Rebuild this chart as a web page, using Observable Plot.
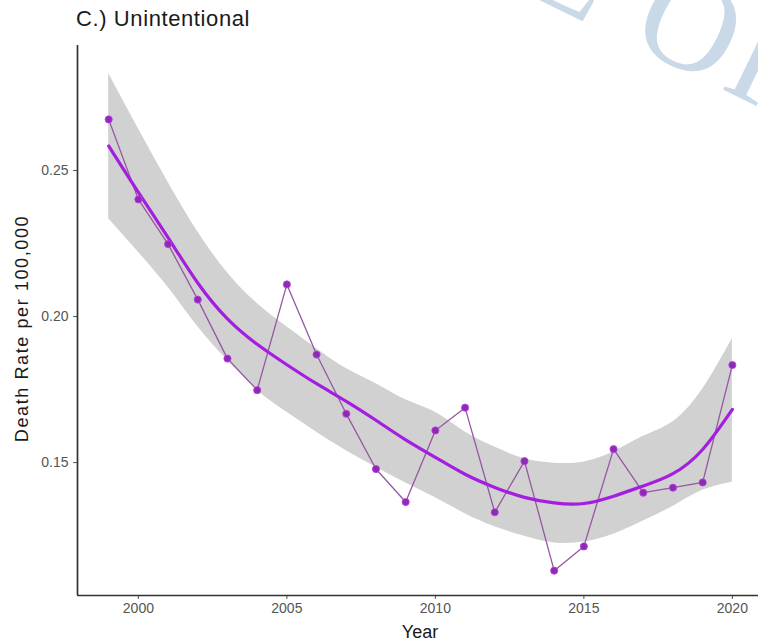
<!DOCTYPE html>
<html>
<head>
<meta charset="utf-8">
<script src="https://cdn.jsdelivr.net/npm/d3@7"></script>
<script src="https://cdn.jsdelivr.net/npm/@observablehq/plot@0.6"></script>
<style>
  html, body { margin: 0; padding: 0; background: #fff; }
  #wrap { position: relative; width: 758px; height: 644px; overflow: hidden; font-family: "Liberation Sans", Arial, sans-serif; }
  #title { position: relative; height: 40px; box-sizing: border-box; padding: 6px 0 0 76px; font-size: 22px; line-height: 26px; letter-spacing: 0.6px; color: #1a1a1a; z-index: 2; }
  #chart { position: relative; z-index: 2; }
  .ylab text { letter-spacing: 1.6px; }
  #wm { position: absolute; left: 492px; top: -160px; font-family: "Liberation Serif", "DejaVu Serif", serif; font-size: 135px; color: #c9d9e7; transform: rotate(26deg); transform-origin: 0 0; white-space: nowrap; z-index: 1; letter-spacing: 4px; }
</style>
</head>
<body>
<div id="wrap">
  <div id="wm">LE OP</div>
  <div id="title">C.) Unintentional</div>
  <div id="chart"></div>
</div>
<script>
const years = [1999, 2000, 2001, 2002, 2003, 2004, 2005, 2006, 2007, 2008, 2009, 2010, 2011, 2012, 2013, 2014, 2015, 2016, 2017, 2018, 2019, 2020];
const rate  = [0.2675, 0.2401, 0.2248, 0.2058, 0.1856, 0.1748, 0.2110, 0.1870, 0.1667, 0.1478, 0.1365, 0.1610, 0.1688, 0.1330, 0.1505, 0.1130, 0.1213, 0.1546, 0.1397, 0.1414, 0.1432, 0.1834];
const fit   = [0.2584, 0.2425, 0.2270, 0.2115, 0.1992, 0.1905, 0.1835, 0.1770, 0.1710, 0.1645, 0.1578, 0.1518, 0.1460, 0.1415, 0.1381, 0.1362, 0.1360, 0.1385, 0.1420, 0.1462, 0.1545, 0.1682];
const upper = [0.2832, 0.2643, 0.2460, 0.2290, 0.2150, 0.2045, 0.1965, 0.1890, 0.1822, 0.1770, 0.1715, 0.1672, 0.1605, 0.1553, 0.1513, 0.1498, 0.1502, 0.1537, 0.1590, 0.1640, 0.1752, 0.1925];
const lower = [0.2335, 0.2220, 0.2100, 0.1965, 0.1850, 0.1748, 0.1672, 0.1604, 0.1541, 0.1484, 0.1430, 0.1380, 0.1325, 0.1280, 0.1248, 0.1225, 0.1228, 0.1255, 0.1300, 0.1350, 0.1405, 0.1433];
const xTicks = [2000, 2005, 2010, 2015, 2020];
const yTicks = [0.15, 0.20, 0.25];
const xLabel = "Year";
const yLabel = "Death Rate per 100,000";

const data = years.map((year, i) => ({year, rate: rate[i], fit: fit[i], upper: upper[i], lower: lower[i]}));

const chart = Plot.plot({
  width: 758,
  height: 604,
  marginTop: 5,
  marginBottom: 49,
  marginLeft: 77,
  marginRight: 0,
  style: {fontFamily: "Liberation Sans, Arial, sans-serif", background: "transparent", overflow: "visible"},
  x: {domain: [1997.95, 2020.88]},
  y: {domain: [0.1045, 0.2928]},
  marks: [
    Plot.areaY(data, {x: "year", y1: "lower", y2: "upper", fill: "#d1d1d1", fillOpacity: 1, curve: "natural"}),
    Plot.line(data, {x: "year", y: "rate", stroke: "#93589f", strokeWidth: 1.3}),
    Plot.line(data, {x: "year", y: "fit", stroke: "#a41ee0", strokeWidth: 3.2, curve: "natural"}),
    Plot.dot(data, {x: "year", y: "rate", r: 3.6, fill: "#8c2bb3", stroke: "#c040e8", strokeWidth: 0.8}),
    Plot.axisX({ticks: xTicks, tickFormat: d => String(d), tickSize: 4, tickPadding: 4, fontSize: 14, color: "#555", label: null}),
    Plot.axisY({ticks: yTicks, tickFormat: d => d.toFixed(2), tickSize: 4, tickPadding: 5, fontSize: 14, color: "#555", label: null}),
    Plot.ruleX([1997.95], {stroke: "#333", strokeWidth: 1.7}),
    Plot.ruleY([0.1045], {stroke: "#333", strokeWidth: 1.7}),
    Plot.text([xLabel], {frameAnchor: "bottom", lineAnchor: "middle", dx: 2, dy: 37, fontSize: 18, fill: "#1a1a1a"}),
    Plot.text([yLabel], {frameAnchor: "left", textAnchor: "middle", lineAnchor: "middle", dx: -55, dy: 8, rotate: -90, fontSize: 18, fill: "#1a1a1a", className: "ylab"})
  ]
});
document.getElementById("chart").appendChild(chart);
</script>
</body>
</html>
